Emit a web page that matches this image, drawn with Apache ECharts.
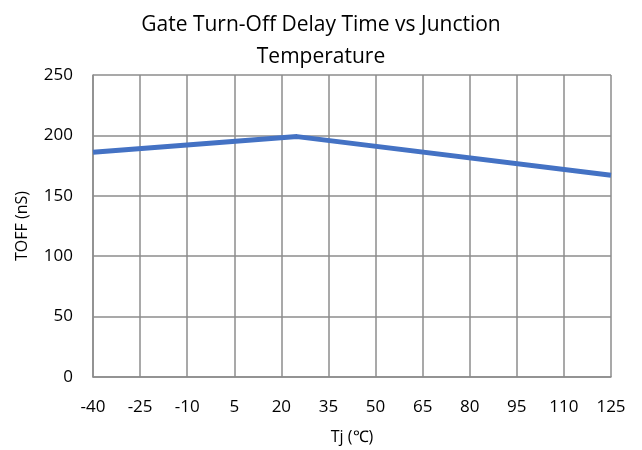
<!DOCTYPE html>
<html>
<head>
<meta charset="utf-8">
<script src="https://cdn.jsdelivr.net/npm/echarts@6.0.0/dist/echarts.min.js"></script>
<style>
  html, body { margin: 0; padding: 0; background: #fff; }
  #chart { width: 642px; height: 450px; }
</style>
</head>
<body>
<div id="chart"></div>
<script>
// Tick labels on the temperature axis
const tempLabels = ['-40', '-25', '-10', '5', '20', '35', '50', '65', '80', '95', '110', '125'];

// Measured points: junction temperature (°C) and turn-off delay (nS)
const tempPoints = [-40, 25, 125];
const toffValues = [186, 199, 167];

const gridColor = '#8c8c8c';
const font = 'Open Sans';

const chart = echarts.init(document.getElementById('chart'));

const option = {
    backgroundColor: '#fff',
    animation: false,
    title: {
        text: 'Gate Turn-Off Delay Time vs Junction\nTemperature',
        left: 'center',
        top: 4,
        textStyle: {
            fontFamily: font,
            fontSize: 21,
            fontWeight: 'normal',
            color: '#000',
            lineHeight: 32
        }
    },
    grid: {
        left: 93,
        right: 31,
        top: 75,
        bottom: 72
    },
    xAxis: [
        {
            // visible category axis for the labels and vertical gridlines
            type: 'category',
            data: tempLabels,
            boundaryGap: false,
            name: 'Tj (℃)',
            nameLocation: 'middle',
            nameGap: 52,
            nameTextStyle: { fontFamily: font, fontSize: 16, color: '#000' },
            axisLine: { onZero: false, lineStyle: { color: gridColor, width: 1.5 } },
            axisTick: { show: false },
            axisLabel: { fontFamily: font, fontSize: 17, color: '#000', margin: 22 },
            splitLine: { show: true, lineStyle: { color: gridColor, width: 1.5 } }
        },
        {
            // hidden value axis that positions the series
            type: 'value',
            min: -40,
            max: 125,
            show: false
        }
    ],
    yAxis: {
        type: 'value',
        min: 0,
        max: 250,
        interval: 50,
        name: 'TOFF (nS)',
        nameLocation: 'middle',
        nameGap: 63,
        nameTextStyle: { fontFamily: font, fontSize: 16, color: '#000' },
        axisLine: { show: true, onZero: false, lineStyle: { color: gridColor, width: 1.5 } },
        axisTick: { show: false },
        axisLabel: { fontFamily: font, fontSize: 17, color: '#000', margin: 20 },
        splitLine: { show: true, lineStyle: { color: gridColor, width: 1.5 } }
    },
    series: [
        {
            type: 'line',
            xAxisIndex: 1,
            data: tempPoints.map((t, i) => [t, toffValues[i]]),
            showSymbol: false,
            lineStyle: { color: '#4472c4', width: 5 }
        }
    ]
};

chart.setOption(option);
</script>
</body>
</html>
